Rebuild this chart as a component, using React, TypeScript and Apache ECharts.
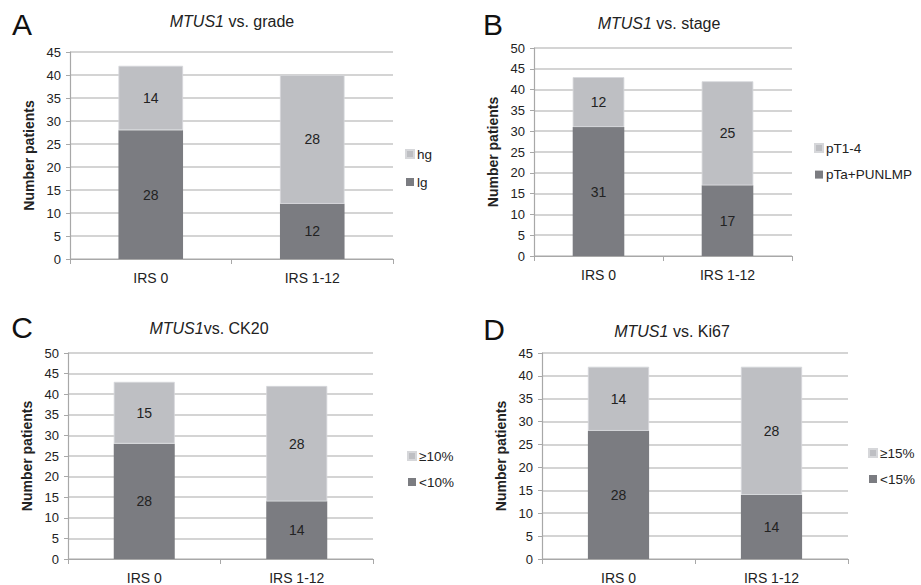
import React, { useEffect, useRef } from "react";
import * as echarts from "echarts";

const categories = ["IRS 0", "IRS 1-12"];

const gradeLg = [28, 12];
const gradeHg = [14, 28];
const stagePTa = [31, 17];
const stagePT1 = [12, 25];
const ck20Low = [28, 14];
const ck20High = [15, 28];
const ki67Low = [28, 14];
const ki67High = [14, 28];

const panelLetters = ["A", "B", "C", "D"];
const panelTitles = ["vs. grade", "vs. stage", "vs. CK20", "vs. Ki67"];
const titleGaps = [" ", " ", "", " "];
const yMaxes = [45, 50, 50, 45];
const darkNames = ["lg", "pTa+PUNLMP", "<10%", "<15%"];
const lightNames = ["hg", "pT1-4", "≥10%", "≥15%"];
const darkData = [gradeLg, stagePTa, ck20Low, ki67Low];
const lightData = [gradeHg, stagePT1, ck20High, ki67High];

const FONT = "'Liberation Sans', Arial, sans-serif";
const DARK = "#7b7c81";
const LIGHT = "#bebfc3";
const TXT = "#222";

// layout (pixels)
const grids = [
  { left: 70, top: 52, width: 323, height: 207 },
  { left: 534, top: 48, width: 258, height: 208 },
  { left: 68, top: 353, width: 305, height: 206 },
  { left: 542, top: 353, width: 306, height: 206 },
];
const titlePos = [
  [232, 21],
  [659, 23],
  [209, 328],
  [672, 331],
];
const letterPos = [
  [22, 24],
  [493, 24],
  [22, 327],
  [494, 329],
];
const legendPos = [
  { left: 405, top: 147, gap: 14 },
  { left: 814, top: 141, gap: 12.6 },
  { left: 407, top: 449, gap: 12 },
  { left: 868, top: 446, gap: 12 },
];

export default function App() {
  const ref = useRef<HTMLDivElement>(null);
  useEffect(() => {
    document.body.style.margin = "0";
    const chart = echarts.init(ref.current!, null, { renderer: "svg" });
    const idx = [0, 1, 2, 3];
    const option: any = {
      animation: false,
      backgroundColor: "#fff",
      textStyle: { fontFamily: FONT },
      grid: grids.map((g) => ({ ...g, containLabel: false })),
      xAxis: idx.map((i) => ({
        type: "category",
        gridIndex: i,
        data: categories,
        axisLine: { show: true, lineStyle: { color: "#a8a8a8", width: 1.2 } },
        axisTick: { show: true, length: 5, lineStyle: { color: "#a8a8a8" } },
        axisLabel: { color: TXT, fontSize: 14, fontFamily: FONT, margin: 12 },
      })),
      yAxis: idx.map((i) => ({
        type: "value",
        gridIndex: i,
        min: 0,
        max: yMaxes[i],
        interval: 5,
        name: "Number patients",
        nameLocation: "middle",
        nameGap: 34,
        nameTextStyle: { color: TXT, fontSize: 14, fontWeight: "bold", fontFamily: FONT },
        axisLine: { show: true, lineStyle: { color: "#a8a8a8", width: 1.2 } },
        axisTick: { show: true, length: 4, lineStyle: { color: "#a8a8a8" } },
        axisLabel: { color: TXT, fontSize: 13, fontFamily: FONT, margin: 9 },
        splitLine: { show: true, lineStyle: { color: "#c6c6c6", width: 1.5 } },
      })),
      legend: idx.map((i) => ({
        orient: "vertical",
        left: legendPos[i].left,
        top: legendPos[i].top,
        padding: 0,
        itemWidth: 8,
        itemHeight: 8,
        itemGap: legendPos[i].gap,
        icon: "rect",
        data: [lightNames[i], darkNames[i]],
        textStyle: { color: TXT, fontSize: 13.5, fontFamily: FONT, padding: [0, 0, 0, -2] },
      })),
      series: idx.flatMap((i) => [
        {
          type: "bar",
          name: darkNames[i],
          xAxisIndex: i,
          yAxisIndex: i,
          stack: "s" + i,
          data: darkData[i],
          barWidth: "40%",
          itemStyle: { color: DARK },
          label: { show: true, position: "inside", color: TXT, fontSize: 14, fontFamily: FONT },
        },
        {
          type: "bar",
          name: lightNames[i],
          xAxisIndex: i,
          yAxisIndex: i,
          stack: "s" + i,
          data: lightData[i],
          barWidth: "40%",
          itemStyle: { color: LIGHT, borderColor: "#d6d7da", borderWidth: 0.8 },
          label: { show: true, position: "inside", color: TXT, fontSize: 14, fontFamily: FONT },
        },
      ]),
      graphic: [
        ...idx.map((i) => ({
          type: "text",
          x: letterPos[i][0],
          y: letterPos[i][1],
          style: {
            text: panelLetters[i],
            fill: "#111",
            font: `30px ${FONT}`,
            align: "center",
            verticalAlign: "middle",
          },
        })),
        ...idx.map((i) => ({
          type: "text",
          x: titlePos[i][0],
          y: titlePos[i][1],
          style: {
            text: `{i|MTUS1}{n|${titleGaps[i]}${panelTitles[i]}}`,
            align: "center",
            verticalAlign: "middle",
            rich: {
              i: { fontStyle: "italic", fontSize: 16, fontFamily: FONT, fill: TXT, color: TXT },
              n: { fontSize: 16, fontFamily: FONT, fill: TXT, color: TXT },
            },
          },
        })),
      ],
    };
    chart.setOption(option);
    return () => chart.dispose();
  }, []);
  return <div ref={ref} style={{ width: 921, height: 585 }} />;
}
